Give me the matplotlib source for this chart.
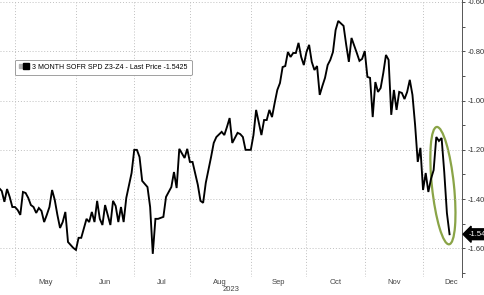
import numpy as np
import matplotlib
matplotlib.use("Agg")
import matplotlib.pyplot as plt
from matplotlib import transforms
from matplotlib.lines import Line2D
from matplotlib.legend_handler import HandlerTuple
from matplotlib.patches import Ellipse

# business days counted from the first point (Bloomberg spaces by weekday)
START = "2023-04-21"
bday = [0, 1, 2, 3, 4, 5, 6, 7, 8, 9, 10, 11, 12, 13, 14, 15, 16, 17, 18, 19,
        20, 21, 22, 23, 24, 25, 26, 28, 29, 30, 31, 33, 34, 35, 36, 37, 38, 39,
        40, 41, 42, 43, 44, 45, 46, 47, 48, 50, 51, 52, 53, 54, 56, 57, 58, 59,
        60, 62, 63, 65, 66, 67, 68, 70, 71, 72, 73, 75, 76, 77, 78, 80, 81, 82,
        84, 85, 86, 87, 88, 90, 91, 92, 93, 95, 96, 97, 99, 100, 101, 102, 103,
        104, 105, 106, 107, 108, 109, 110, 111, 112, 113, 114, 115, 116, 117,
        118, 119, 120, 121, 122, 123, 124, 125, 126, 127, 128, 130, 131, 132,
        133, 135, 136, 137, 138, 139, 140, 141, 142, 143, 144, 145, 146, 147,
        148, 149, 150, 151, 152, 153, 154, 155, 156, 157, 158, 159, 160, 161,
        162, 163, 164, 165, 166, 167, 168, 169, 170]
price = [-1.355, -1.367, -1.411, -1.359, -1.391, -1.432, -1.432, -1.444, -1.464,
         -1.371, -1.375, -1.395, -1.424, -1.432, -1.456, -1.436, -1.448, -1.493,
         -1.464, -1.432, -1.363, -1.403, -1.464, -1.517, -1.493, -1.452, -1.574,
         -1.598, -1.606, -1.557, -1.557, -1.480, -1.493, -1.452, -1.493, -1.407,
         -1.480, -1.505, -1.424, -1.464, -1.505, -1.407, -1.428, -1.493, -1.432,
         -1.493, -1.395, -1.294, -1.200, -1.200, -1.229, -1.326, -1.351, -1.432,
         -1.622, -1.480, -1.480, -1.472, -1.391, -1.351, -1.290, -1.355, -1.196,
         -1.233, -1.196, -1.249, -1.249, -1.342, -1.407, -1.415, -1.334, -1.229,
         -1.172, -1.148, -1.127, -1.140, -1.107, -1.071, -1.172, -1.131, -1.136,
         -1.148, -1.200, -1.200, -1.140, -1.038, -1.140, -1.079, -1.079, -1.038,
         -1.067, -1.010, -0.957, -0.929, -0.864, -0.860, -0.803, -0.823, -0.807,
         -0.807, -0.766, -0.823, -0.856, -0.803, -0.774, -0.843, -0.876, -0.860,
         -0.977, -0.941, -0.908, -0.856, -0.835, -0.803, -0.714, -0.677, -0.697,
         -0.774, -0.843, -0.746, -0.807, -0.839, -0.831, -0.799, -0.904, -0.908,
         -1.067, -0.925, -0.965, -0.949, -0.888, -0.815, -0.835, -1.058, -0.957,
         -1.038, -0.965, -0.969, -0.994, -0.965, -0.916, -0.977, -1.099, -1.249,
         -1.192, -1.363, -1.294, -1.371, -1.318, -1.282, -1.148, -1.164, -1.152,
         -1.290, -1.456, -1.5425]

months = ["May", "Jun", "Jul", "Aug", "Sep", "Oct", "Nov", "Dec"]
month_starts = ["2023-05-01", "2023-06-01", "2023-07-03", "2023-08-01",
                "2023-09-01", "2023-10-02", "2023-11-01", "2023-12-01", "2024-01-01"]
yticks = [-0.6, -0.8, -1.0, -1.2, -1.4, -1.6]
label = "3 MONTH SOFR SPD Z3-Z4 - Last Price -1.5425"
last_price = "-1.5425"

plt.rcParams["font.family"] = ["Liberation Sans", "DejaVu Sans"]

fig = plt.figure(figsize=(4.85, 2.95), dpi=100)
ax = fig.add_axes([0.0, 0.061, 462 / 485, 0.939])

ax.plot(bday, price, color="black", lw=1.35, solid_joinstyle="miter")

# month boundaries and label positions in business days
bounds = np.busday_count(START, month_starts)
mids = (bounds[:-1] + bounds[1:]) / 2
ax.set_xticks(bounds[:-1])
ax.set_xticklabels([])
ax.set_xticks(mids, minor=True)
ax.set_xticklabels(months, minor=True)
ax.tick_params(axis="x", which="both", length=0, labelsize=5.5,
               labelcolor="#444444", pad=1.5)
ax.set_xlim(0.34, 174.7)

ax.set_ylim(-1.716, -0.592)
ax.set_yticks(yticks)
ax.set_yticklabels([f"{v:.3f}" for v in yticks])
ax.set_yticks(np.arange(-1.7, -0.6, 0.1), minor=True)
ax.yaxis.tick_right()
ax.tick_params(axis="y", which="major", length=2.5, width=0.6, pad=1.5,
               labelsize=5.5, labelcolor="#333333", color="#333333")
ax.tick_params(axis="y", which="minor", length=2, width=0.6, color="#333333")

ax.grid(True, which="major", color="#c0c0c0", ls=(0, (1, 2)), lw=0.7)
for side in ["left", "top", "bottom"]:
    ax.spines[side].set_visible(False)
ax.spines["right"].set_color("#555555")
ax.spines["right"].set_linewidth(0.7)

ax.text(0.5, -0.046, "2023", transform=ax.transAxes, ha="center", va="center",
        fontsize=5.5, color="#444444")

handle = (Line2D([], [], marker="s", ms=2.2, color="#b0b0b0", ls="none"),
          Line2D([], [], marker="s", ms=4.5, color="black", ls="none"))
leg = ax.legend([handle], [label], loc="upper left",
                bbox_to_anchor=(0.032, 0.785), fontsize=5,
                handler_map={tuple: HandlerTuple(ndivide=None, pad=0.15)},
                handlelength=1.3, handletextpad=0.6, borderpad=0.6,
                borderaxespad=0, frameon=True, fancybox=True, framealpha=1)
leg.get_frame().set_edgecolor("#909090")
leg.get_frame().set_linewidth(0.6)

# last price tag on the right axis
ax.annotate(last_price, xy=(1.0, price[-1]),
            xycoords=("axes fraction", "data"), xytext=(5, 0),
            textcoords="offset points", ha="left", va="center",
            fontsize=5.5, color="white",
            bbox=dict(boxstyle="larrow,pad=0.25", fc="black", ec="black"),
            annotation_clip=False)

# green highlight around the last few sessions
xc = np.mean(bday[-6:])
yc = (max(price[-6:]) + min(price[-6:])) / 2
ring = Ellipse((0, 0), width=0.22, height=1.18, angle=6, fill=False,
               ec="#8aa447", lw=1.6,
               transform=fig.dpi_scale_trans + transforms.ScaledTranslation(xc, yc, ax.transData))
ax.add_patch(ring)

fig.savefig("out.png", dpi=100)
